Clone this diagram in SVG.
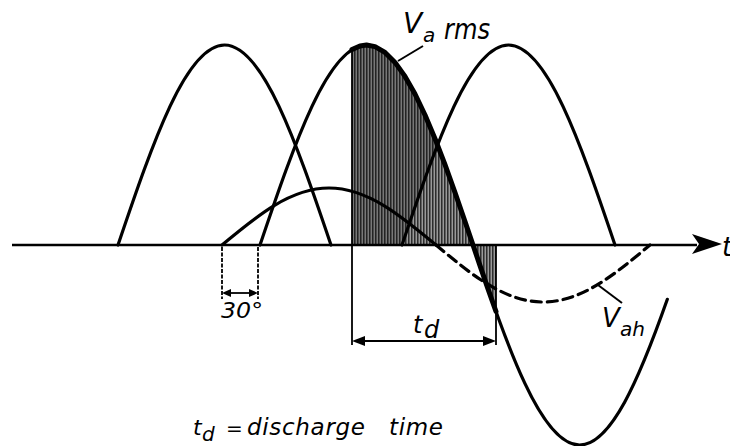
<svg xmlns="http://www.w3.org/2000/svg" width="730" height="446" viewBox="0 0 730 446">
<defs>
<style>
.c{fill:none;stroke:#000;stroke-width:3.2;stroke-linecap:round;stroke-linejoin:round}
.thick{fill:none;stroke:#000;stroke-width:5;stroke-linecap:round;stroke-linejoin:round}
.dim{fill:none;stroke:#000;stroke-width:1.8}
.dot{fill:none;stroke:#000;stroke-width:1.8;stroke-dasharray:4 1.5}
.ah{fill:#000;stroke:none}
text{font-family:"DejaVu Sans","Liberation Sans",sans-serif;font-style:italic;fill:#000}
</style>
<pattern id="hatch" patternUnits="userSpaceOnUse" width="3" height="4">
<rect width="3" height="4" fill="#9a9a9a"/>
<line x1="0.8" y1="0" x2="0.8" y2="4" stroke="#1a1a1a" stroke-width="1.3"/>
</pattern>
</defs>
<rect width="730" height="446" fill="#fff"/>

<g id="shading">
<path d="M352,245 L352,49.6 L360,45.9 L366.5,45 L375,46.6 L385,52.4 L395,62.4 L405,76.4 L415,94 L425,115 L435,138.7 L445,164.7 L455,192.5 L465,221.5 L473,245 Z" fill="url(#hatch)"/>
<path d="M352,245 L402,245 L410,221.5 L420,192.5 L430,164.7 L437.5,145 L435,138.7 L425,115 L415,94 L405,76.4 L395,62.4 L385,52.4 L375,46.6 L366.5,45 L360,45.9 L352,49.6 Z" fill="#000" fill-opacity="0.22"/>
<path d="M473,245 L496,245 L496,311.5 L488,288.9 L480,265.6 Z" fill="url(#hatch)"/>
</g>

<g id="axis">
<path d="M12,245 L697,245" fill="none" stroke="#000" stroke-width="2.5"/>
<polygon class="ah" points="722,244 692,234 699,244 692,254"/>
<text x="722" y="256" font-size="26">t</text>
</g>

<g id="wave1">
<path class="c" d="M118,245 C152.73,142.56 186.13,45 224.5,45 C262.87,45 296.27,142.56 331,245"/>
</g>
<g id="wave2">
<path class="c" d="M260,245 C294.73,142.56 328.13,45 366.5,45 C404.87,45 438.27,142.56 473,245 C507.73,347.44 541.13,445 579.5,445 C610.96,445 639.09,379.4 667.34,299.3"/>
</g>
<g id="wave3">
<path class="c" d="M402,245 C436.73,142.56 470.13,45 508.5,45 C546.87,45 580.27,142.56 615,245"/>
</g>

<g id="Varms">
<polyline class="thick" points="352,49.6 360,45.9 366.5,45 375,46.6 385,52.4 395,62.4 405,76.4 415,94 425,115 435,138.7 445,164.7 455,192.5 465,221.5 473,245 480,265.6 488,288.9 496,311.5"/>
<path d="M423,46 L398,61" fill="none" stroke="#000" stroke-width="2"/>
<text x="403" y="33" font-size="28">V</text>
<text x="423" y="42" font-size="20">a</text>
<text x="444" y="39" font-size="28" textLength="46" lengthAdjust="spacingAndGlyphs">rms</text>
</g>

<g id="Vah">
<path class="c" d="M222,245 C256.89,215.8 290.45,188 329,188 C367.55,188 401.11,215.8 436,245"/>
<path class="c" d="M436,245 C470.89,274.2 504.45,302 543,302 C581.55,302 615.11,274.2 650,245" stroke-dasharray="10 6" stroke-linecap="butt"/>
<path d="M622,303 L598,285" fill="none" stroke="#000" stroke-width="2"/>
<text x="602" y="327" font-size="26">V</text>
<text x="620" y="336" font-size="20" textLength="25" lengthAdjust="spacingAndGlyphs">ah</text>
</g>

<g id="connectors">
<path class="dot" d="M222,247 L222,299"/>
<path class="dot" d="M258,247 L258,299"/>
<path class="dim" d="M229,293 L251,293"/>
<polygon class="ah" points="222,293 231,289 231,297"/>
<polygon class="ah" points="258,293 249,289 249,297"/>
<path class="dim" d="M352,49 L352,345" stroke-width="2.2"/>
<path class="dim" d="M496,245 L496,345"/>
<path class="dim" d="M362,341 L486,341"/>
<polygon class="ah" points="352,341 365,336 365,346"/>
<polygon class="ah" points="496,341 483,336 483,346"/>
</g>

<g id="labels">
<text x="221" y="318" font-size="22" textLength="42" lengthAdjust="spacingAndGlyphs">30°</text>
<text x="413" y="333" font-size="24">t</text>
<text x="424" y="338" font-size="24">d</text>
<text x="193" y="435" font-size="22">t</text>
<text x="202" y="441" font-size="20">d</text>
<text x="226" y="435" font-size="20">=</text>
<text x="247" y="435" font-size="23" textLength="118" lengthAdjust="spacing">discharge</text>
<text x="389" y="435" font-size="23" textLength="54" lengthAdjust="spacing">time</text>
</g>
</svg>
